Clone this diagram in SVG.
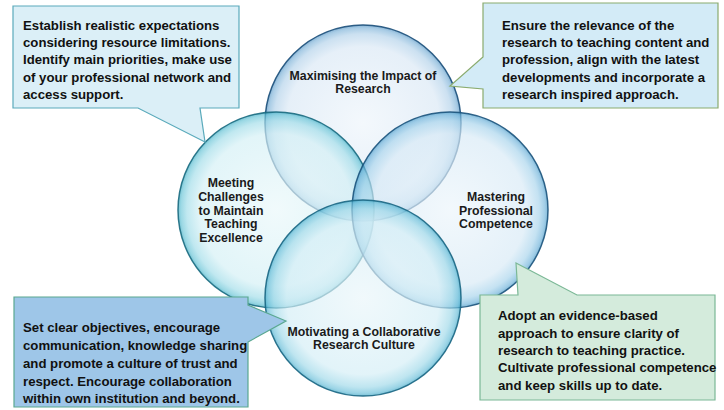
<svg xmlns="http://www.w3.org/2000/svg" width="724" height="410" viewBox="0 0 724 410">
<defs>
<radialGradient id="gTop" cx="0.5" cy="0.5" r="0.5">
<stop offset="0" stop-color="#eef5fb"/>
<stop offset="0.78" stop-color="#dae8f5"/>
<stop offset="0.91" stop-color="#b3d2ea"/>
<stop offset="0.97" stop-color="#80b4d9"/>
<stop offset="1" stop-color="#4f8fc0"/>
</radialGradient>
<radialGradient id="gLeft" cx="0.5" cy="0.5" r="0.5">
<stop offset="0" stop-color="#eaf8fa"/>
<stop offset="0.78" stop-color="#d4f0f5"/>
<stop offset="0.91" stop-color="#a2dde9"/>
<stop offset="0.97" stop-color="#6cc6d8"/>
<stop offset="1" stop-color="#37a8c0"/>
</radialGradient>
<radialGradient id="gRight" cx="0.5" cy="0.5" r="0.5">
<stop offset="0" stop-color="#ecf5fb"/>
<stop offset="0.78" stop-color="#d8eaf6"/>
<stop offset="0.91" stop-color="#a8d4ec"/>
<stop offset="0.97" stop-color="#74b6dc"/>
<stop offset="1" stop-color="#4496c4"/>
</radialGradient>
<radialGradient id="gBot" cx="0.5" cy="0.5" r="0.5">
<stop offset="0" stop-color="#eaf6fa"/>
<stop offset="0.78" stop-color="#d4eef6"/>
<stop offset="0.91" stop-color="#a0d9e9"/>
<stop offset="0.97" stop-color="#6cc0da"/>
<stop offset="1" stop-color="#3aa4c4"/>
</radialGradient>
</defs>
<style>
.c{fill-opacity:0.68;stroke-width:1.5;stroke-opacity:0.9}
.lbl{font-family:"Liberation Sans",Arial,sans-serif;font-weight:bold;font-size:12.3px;fill:#1a1a1a;text-anchor:middle}
.co{stroke-width:1.2}
.ct{font-family:"Liberation Sans",Arial,sans-serif;font-weight:bold;font-size:13.2px;fill:#111}
</style>
<rect width="724" height="410" fill="#ffffff"/>
<g id="circles">
<g id="circle-top"><circle class="c" cx="363" cy="123" r="98" fill="url(#gTop)" stroke="#1b4f7a"/></g>
<g id="circle-left"><circle class="c" cx="276" cy="210" r="98" fill="url(#gLeft)" stroke="#1a6a80"/></g>
<g id="circle-right"><circle class="c" cx="450" cy="210" r="98" fill="url(#gRight)" stroke="#1b537c"/></g>
<g id="circle-bottom"><circle class="c" cx="363" cy="298" r="98" fill="url(#gBot)" stroke="#1a6683"/></g>
</g>
<g id="labels">
<text class="lbl" x="363" y="80">Maximising the Impact of</text>
<text class="lbl" x="363" y="93">Research</text>
<text class="lbl" x="231" y="187">Meeting</text>
<text class="lbl" x="231" y="201">Challenges</text>
<text class="lbl" x="231" y="215">to Maintain</text>
<text class="lbl" x="231" y="228">Teaching</text>
<text class="lbl" x="231" y="242">Excellence</text>
<text class="lbl" x="496" y="201">Mastering</text>
<text class="lbl" x="496" y="215">Professional</text>
<text class="lbl" x="496" y="228">Competence</text>
<text class="lbl" x="364" y="336">Motivating a Collaborative</text>
<text class="lbl" x="364" y="349">Research Culture</text>
</g>
<g id="callout-tl">
<path class="co" d="M13,6 H239 V108 H200 L205,142 L138,108 H13 Z" fill="#dbeff7" stroke="#5aaabb"/>
<text class="ct" x="23" y="30">Establish realistic expectations</text>
<text class="ct" x="23" y="47">considering resource limitations.</text>
<text class="ct" x="23" y="64">Identify main priorities, make use</text>
<text class="ct" x="23" y="82">of your professional network and</text>
<text class="ct" x="23" y="99">access support.</text>
</g>
<g id="callout-tr">
<path class="co" d="M483,3 H718 V108 H483 V89 L450,86 L483,57 Z" fill="#d3ebf7" stroke="#8aab6e"/>
<text class="ct" x="502" y="30">Ensure the relevance of the</text>
<text class="ct" x="502" y="47">research to teaching content and</text>
<text class="ct" x="502" y="64">profession, align with the latest</text>
<text class="ct" x="502" y="82">developments and incorporate a</text>
<text class="ct" x="502" y="99">research inspired approach.</text>
</g>
<g id="callout-bl">
<path class="co" d="M14,297 H248 V305 L286,321 L248,342 V407 H14 Z" fill="#9ec6e8" stroke="#5aa890"/>
<text class="ct" x="23" y="332">Set clear objectives, encourage</text>
<text class="ct" x="23" y="350">communication, knowledge sharing</text>
<text class="ct" x="23" y="368">and promote a culture of trust and</text>
<text class="ct" x="23" y="386">respect. Encourage collaboration</text>
<text class="ct" x="23" y="403">within own institution and beyond.</text>
</g>
<g id="callout-br">
<path class="co" d="M480,295 H518 L516,263 L577,295 H715 V400 H480 Z" fill="#d4ebdc" stroke="#7bb896"/>
<text class="ct" x="498" y="320">Adopt an evidence-based</text>
<text class="ct" x="498" y="338">approach to ensure clarity of</text>
<text class="ct" x="498" y="355">research to teaching practice.</text>
<text class="ct" x="498" y="372">Cultivate professional competence</text>
<text class="ct" x="498" y="390">and keep skills up to date.</text>
</g>
</svg>
